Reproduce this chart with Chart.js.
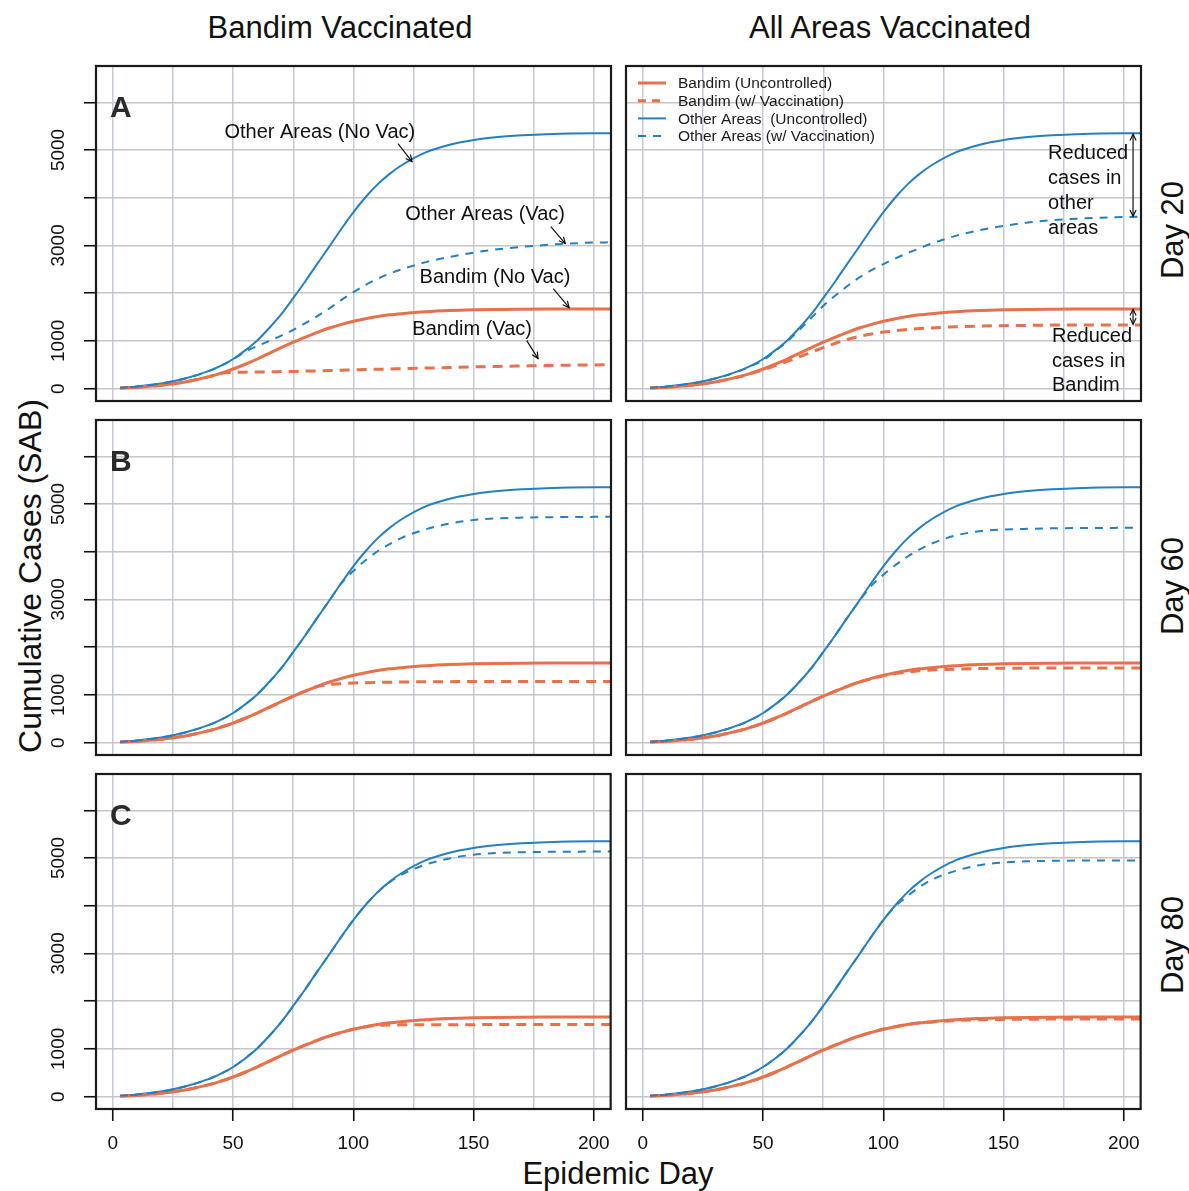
<!DOCTYPE html>
<html>
<head>
<meta charset="utf-8">
<script src="https://cdn.jsdelivr.net/npm/chart.js@4.4.1/dist/chart.umd.min.js"></script>
<style>
  html, body { margin: 0; padding: 0; background: #fff; }
  #fig { position: relative; width: 1189px; height: 1191px; overflow: hidden;
         font-family: "Liberation Sans", Arial, Helvetica, sans-serif; color: #111; }
  #fig canvas { position: absolute; }
  .lbl { position: absolute; white-space: nowrap; font-size: 31px; line-height: 1; }
  .ctr { transform: translate(-50%, -50%); }
  .rot { transform: translate(-50%, -50%) rotate(-90deg); }
</style>
</head>
<body>
<div id="fig">
  <div class="lbl ctr" style="left:340px;top:27px">Bandim Vaccinated</div>
  <div class="lbl ctr" style="left:890px;top:27px">All Areas Vaccinated</div>
  <div class="lbl rot" style="left:30px;top:576px;font-size:32px">Cumulative Cases (SAB)</div>
  <div class="lbl ctr" style="left:618px;top:1173px">Epidemic Day</div>
  <div class="lbl rot" style="left:1172px;top:230px">Day 20</div>
  <div class="lbl rot" style="left:1172px;top:586px">Day 60</div>
  <div class="lbl rot" style="left:1172px;top:945px">Day 80</div>
</div>
<script>
// Cumulative SAB cases: uncontrolled vs vaccination, six panels (rows = start day, cols = strategy)

const ORANGE = '#e8704a';
const BLUE = '#2480c0';
const FONT = '"Liberation Sans", Arial, Helvetica, sans-serif';

// x = epidemic day, y = cumulative cases
const DAYS = [3, 10, 20, 30, 40, 45, 50, 55, 60, 65, 70, 75, 80, 85, 90, 95, 100, 105, 110, 115, 120, 130, 140, 150, 160, 170, 180, 190, 200, 207];

const X_GRID = [0, 25, 50, 75, 100, 125, 150, 175, 200];
const X_LABELS = [0, 50, 100, 150, 200];
const Y_GRID = [0, 1000, 2000, 3000, 4000, 5000, 6000];
const Y_LABELS = [0, 1000, 3000, 5000];

const OTHER_UNCONTROLLED = [15, 45, 105, 210, 370, 480, 620, 800, 1010, 1270, 1560, 1900, 2250, 2620, 2980, 3350, 3700, 4010, 4280, 4500, 4680, 4950, 5110, 5210, 5270, 5310, 5330, 5345, 5350, 5350];
const BANDIM_UNCONTROLLED = [10, 30, 70, 140, 250, 325, 410, 510, 620, 740, 860, 975, 1080, 1180, 1270, 1345, 1410, 1465, 1510, 1545, 1570, 1610, 1635, 1650, 1660, 1665, 1668, 1670, 1670, 1670];

// Day 20
const BANDIM_VAC_A1 = [10, 30, 70, 140, 250, 320, 340, 345, 348, 352, 356, 360, 366, 372, 378, 385, 392, 398, 405, 411, 418, 430, 442, 455, 465, 474, 482, 490, 496, 500];
const OTHER_VAC_A1 = [15, 45, 105, 210, 370, 480, 615, 770, 890, 1000, 1110, 1230, 1370, 1520, 1680, 1860, 2020, 2170, 2300, 2410, 2500, 2650, 2760, 2850, 2920, 2970, 3010, 3040, 3060, 3065];
const BANDIM_VAC_A2 = [10, 30, 70, 140, 248, 318, 395, 480, 570, 665, 765, 860, 950, 1030, 1095, 1145, 1185, 1215, 1240, 1258, 1272, 1295, 1310, 1318, 1325, 1330, 1332, 1334, 1335, 1335];
const OTHER_VAC_A2 = [15, 45, 105, 210, 368, 475, 595, 785, 990, 1230, 1480, 1735, 1950, 2150, 2330, 2480, 2610, 2730, 2840, 2940, 3040, 3200, 3320, 3410, 3480, 3530, 3560, 3580, 3595, 3600];
// Day 60
const BANDIM_VAC_B1 = [10, 30, 70, 140, 250, 325, 410, 510, 620, 740, 860, 975, 1080, 1175, 1215, 1235, 1248, 1256, 1262, 1266, 1270, 1274, 1277, 1279, 1280, 1281, 1282, 1282, 1282, 1282];
const OTHER_VAC_B1 = [15, 45, 105, 210, 370, 480, 620, 800, 1010, 1270, 1560, 1900, 2250, 2620, 2980, 3340, 3600, 3820, 4010, 4160, 4290, 4470, 4590, 4665, 4700, 4715, 4722, 4728, 4730, 4730];
const BANDIM_VAC_B2 = [10, 30, 70, 140, 250, 325, 410, 510, 620, 740, 860, 975, 1080, 1180, 1270, 1340, 1400, 1445, 1480, 1505, 1520, 1540, 1552, 1558, 1561, 1563, 1564, 1565, 1565, 1565];
const OTHER_VAC_B2 = [15, 45, 105, 210, 370, 480, 620, 800, 1010, 1270, 1560, 1900, 2250, 2620, 2970, 3290, 3520, 3720, 3900, 4050, 4170, 4340, 4430, 4465, 4480, 4490, 4495, 4498, 4500, 4500];
// Day 80
const BANDIM_VAC_C1 = [10, 30, 70, 140, 250, 325, 410, 510, 620, 740, 860, 975, 1080, 1180, 1270, 1345, 1410, 1465, 1492, 1500, 1503, 1505, 1507, 1508, 1509, 1510, 1510, 1510, 1510, 1510];
const OTHER_VAC_C1 = [15, 45, 105, 210, 370, 480, 620, 800, 1010, 1270, 1560, 1900, 2250, 2620, 2980, 3350, 3700, 4010, 4280, 4490, 4650, 4860, 4990, 5070, 5105, 5120, 5128, 5132, 5135, 5135];
const BANDIM_VAC_C2 = [10, 30, 70, 140, 250, 325, 410, 510, 620, 740, 860, 975, 1080, 1180, 1270, 1345, 1410, 1465, 1510, 1540, 1560, 1593, 1610, 1618, 1622, 1625, 1627, 1628, 1628, 1628];
const OTHER_VAC_C2 = [15, 45, 105, 210, 370, 480, 620, 800, 1010, 1270, 1560, 1900, 2250, 2620, 2980, 3350, 3700, 3990, 4200, 4390, 4540, 4730, 4850, 4905, 4930, 4940, 4945, 4948, 4948, 4948];

const LEGEND = [
  { text: 'Bandim (Uncontrolled)', color: ORANGE, width: 3, dash: [] },
  { text: 'Bandim (w/ Vaccination)', color: ORANGE, width: 3, dash: [8, 6] },
  { text: 'Other Areas  (Uncontrolled)', color: BLUE, width: 2, dash: [] },
  { text: 'Other Areas (w/ Vaccination)', color: BLUE, width: 2, dash: [8, 7] },
];

// annotations in data coordinates (day, cases)
const NOTES_A1 = {
  texts: [
    { text: 'Other Areas (No Vac)', x: 86, y: 5365, align: 'center' },
    { text: 'Other Areas (Vac)', x: 154.7, y: 3646, align: 'center' },
    { text: 'Bandim (No Vac)', x: 158.8, y: 2326, align: 'center' },
    { text: 'Bandim (Vac)', x: 149.3, y: 1236, align: 'center' },
  ],
  arrows: [
    { from: [118.5, 5134], to: [124.3, 4757], both: false },
    { from: [182, 3395], to: [188, 3039], both: false },
    { from: [183, 2096], to: [189.6, 1697], both: false },
    { from: [172, 1006], to: [176.7, 629], both: false },
  ],
};
const NOTES_A2 = {
  texts: [
    { text: 'Reduced', x: 168.4, y: 4925, align: 'left' },
    { text: 'cases in', x: 168.4, y: 4401, align: 'left' },
    { text: 'other', x: 168.4, y: 3877, align: 'left' },
    { text: 'areas', x: 168.4, y: 3353, align: 'left' },
    { text: 'Reduced', x: 170, y: 1090, align: 'left' },
    { text: 'cases in', x: 170, y: 566, align: 'left' },
    { text: 'Bandim', x: 170, y: 63, align: 'left' },
  ],
  arrows: [
    { from: [203.7, 5330], to: [203.7, 3610], both: true },
    { from: [203.7, 1662], to: [203.7, 1345], both: true },
  ],
};

const PANELS = [
  { row: 0, col: 0, tag: 'A', bandim: BANDIM_VAC_A1, other: OTHER_VAC_A1, notes: NOTES_A1 },
  { row: 0, col: 1, bandim: BANDIM_VAC_A2, other: OTHER_VAC_A2, notes: NOTES_A2, legend: true },
  { row: 1, col: 0, tag: 'B', bandim: BANDIM_VAC_B1, other: OTHER_VAC_B1 },
  { row: 1, col: 1, bandim: BANDIM_VAC_B2, other: OTHER_VAC_B2 },
  { row: 2, col: 0, tag: 'C', bandim: BANDIM_VAC_C1, other: OTHER_VAC_C1 },
  { row: 2, col: 1, bandim: BANDIM_VAC_C2, other: OTHER_VAC_C2 },
];

// page geometry of the plot boxes
const BOX_LEFT = [96, 626];
const BOX_TOP = [66, 420, 774];
const BOX_W = 515;
const BOX_H = 335;

Chart.defaults.font.family = FONT;
Chart.defaults.color = '#111';

function arrowHead(ctx, x1, y1, x2, y2) {
  const ang = Math.atan2(y2 - y1, x2 - x1);
  const len = 7, spread = Math.PI / 7;
  ctx.beginPath();
  ctx.moveTo(x2 - len * Math.cos(ang - spread), y2 - len * Math.sin(ang - spread));
  ctx.lineTo(x2, y2);
  ctx.lineTo(x2 - len * Math.cos(ang + spread), y2 - len * Math.sin(ang + spread));
  ctx.stroke();
}

const decor = {
  id: 'decor',
  afterDraw(chart, args, opts) {
    const { ctx, chartArea: a, scales } = chart;
    ctx.save();

    // box
    ctx.strokeStyle = '#1a1a1a';
    ctx.lineWidth = 2.2;
    ctx.strokeRect(a.left, a.top, a.right - a.left, a.bottom - a.top);

    // rotated y tick labels (R style)
    if (opts.yLabels) {
      ctx.fillStyle = '#111';
      ctx.font = '19px ' + FONT;
      ctx.textAlign = 'center';
      ctx.textBaseline = 'middle';
      Y_LABELS.forEach(v => {
        ctx.save();
        ctx.translate(59, scales.y.getPixelForValue(v));
        ctx.rotate(-Math.PI / 2);
        ctx.fillText(String(v), 0, 0);
        ctx.restore();
      });
    }

    if (opts.tag) {
      ctx.fillStyle = '#2a2a2a';
      ctx.font = 'bold 30px ' + FONT;
      ctx.textAlign = 'left';
      ctx.textBaseline = 'alphabetic';
      ctx.fillText(opts.tag, a.left + 14, a.top + 51);
    }

    if (opts.notes) {
      ctx.fillStyle = '#111';
      ctx.font = '20px ' + FONT;
      ctx.textBaseline = 'middle';
      opts.notes.texts.forEach(t => {
        ctx.textAlign = t.align;
        ctx.fillText(t.text, scales.x.getPixelForValue(t.x), scales.y.getPixelForValue(t.y));
      });
      ctx.strokeStyle = '#111';
      ctx.lineWidth = 1.2;
      opts.notes.arrows.forEach(ar => {
        const x1 = scales.x.getPixelForValue(ar.from[0]), y1 = scales.y.getPixelForValue(ar.from[1]);
        const x2 = scales.x.getPixelForValue(ar.to[0]), y2 = scales.y.getPixelForValue(ar.to[1]);
        ctx.beginPath();
        ctx.moveTo(x1, y1);
        ctx.lineTo(x2, y2);
        ctx.stroke();
        arrowHead(ctx, x1, y1, x2, y2);
        if (ar.both) arrowHead(ctx, x2, y2, x1, y1);
      });
    }

    if (opts.legend) {
      ctx.font = '15.5px ' + FONT;
      ctx.textAlign = 'left';
      ctx.textBaseline = 'middle';
      LEGEND.forEach((it, i) => {
        const y = a.top + 17 + i * 17.7;
        ctx.strokeStyle = it.color;
        ctx.lineWidth = it.width;
        ctx.setLineDash(it.dash);
        ctx.beginPath();
        ctx.moveTo(a.left + 12, y);
        ctx.lineTo(a.left + 40, y);
        ctx.stroke();
        ctx.setLineDash([]);
        ctx.fillStyle = '#1a1a1a';
        ctx.fillText(it.text, a.left + 52, y + 1);
      });
    }
    ctx.restore();
  },
};

function datasets(bandimVac, otherVac) {
  const pts = vals => DAYS.map((d, i) => ({ x: d, y: vals[i] }));
  return [
    { label: 'Other Areas (w/ Vaccination)', data: pts(otherVac), borderColor: BLUE, borderWidth: 2, borderDash: [8, 7] },
    { label: 'Bandim (w/ Vaccination)', data: pts(bandimVac), borderColor: ORANGE, borderWidth: 3, borderDash: [10, 7] },
    { label: 'Other Areas (Uncontrolled)', data: pts(OTHER_UNCONTROLLED), borderColor: BLUE, borderWidth: 2 },
    { label: 'Bandim (Uncontrolled)', data: pts(BANDIM_UNCONTROLLED), borderColor: ORANGE, borderWidth: 3 },
  ].map(ds => ({ ...ds, pointRadius: 0, fill: false, cubicInterpolationMode: 'monotone' }));
}

function makePanel(p) {
  const showY = p.col === 0;
  const showX = p.row === 2;
  const padL = showY ? 96 : 10;
  const padB = showX ? 60 : 10;
  const pad = 10;

  const canvas = document.createElement('canvas');
  const w = padL + BOX_W + pad;
  const h = pad + BOX_H + padB;
  canvas.width = w;
  canvas.height = h;
  canvas.style.width = w + 'px';
  canvas.style.height = h + 'px';
  canvas.style.left = (BOX_LEFT[p.col] - padL) + 'px';
  canvas.style.top = (BOX_TOP[p.row] - pad) + 'px';
  document.getElementById('fig').appendChild(canvas);

  new Chart(canvas, {
    type: 'line',
    data: { datasets: datasets(p.bandim, p.other) },
    plugins: [decor],
    options: {
      responsive: false,
      animation: false,
      devicePixelRatio: 1,
      layout: { padding: { top: pad, right: pad, left: 0, bottom: 0 } },
      plugins: {
        legend: { display: false },
        tooltip: { enabled: false },
        decor: { yLabels: showY, tag: p.tag, notes: p.notes, legend: p.legend },
      },
      scales: {
        x: {
          type: 'linear',
          min: -7,
          max: 207,
          afterBuildTicks: s => { s.ticks = X_GRID.map(v => ({ value: v })); },
          afterFit: s => { s.height = padB; },
          border: { display: false },
          grid: {
            color: '#c3cbd7',
            lineWidth: 1.5,
            drawTicks: showX,
            tickLength: 12,
            tickWidth: 1.6,
            tickColor: c => (c.tick && X_LABELS.includes(c.tick.value)) ? '#111' : 'rgba(0,0,0,0)',
          },
          ticks: {
            display: showX,
            autoSkip: false,
            maxRotation: 0,
            minRotation: 0,
            padding: 11,
            color: '#111',
            font: { size: 19 },
            callback: v => X_LABELS.includes(v) ? String(v) : '',
          },
        },
        y: {
          type: 'linear',
          min: -260,
          max: 6760,
          afterBuildTicks: s => { s.ticks = Y_GRID.map(v => ({ value: v })); },
          afterFit: s => { s.width = padL; },
          border: { display: false },
          grid: {
            color: '#c9c4c8',
            lineWidth: 1.5,
            drawTicks: showY,
            tickLength: 12,
            tickWidth: 1.6,
            tickColor: '#111',
          },
          ticks: { display: false },
        },
      },
    },
  });
}

PANELS.forEach(makePanel);
</script>
</body>
</html>
